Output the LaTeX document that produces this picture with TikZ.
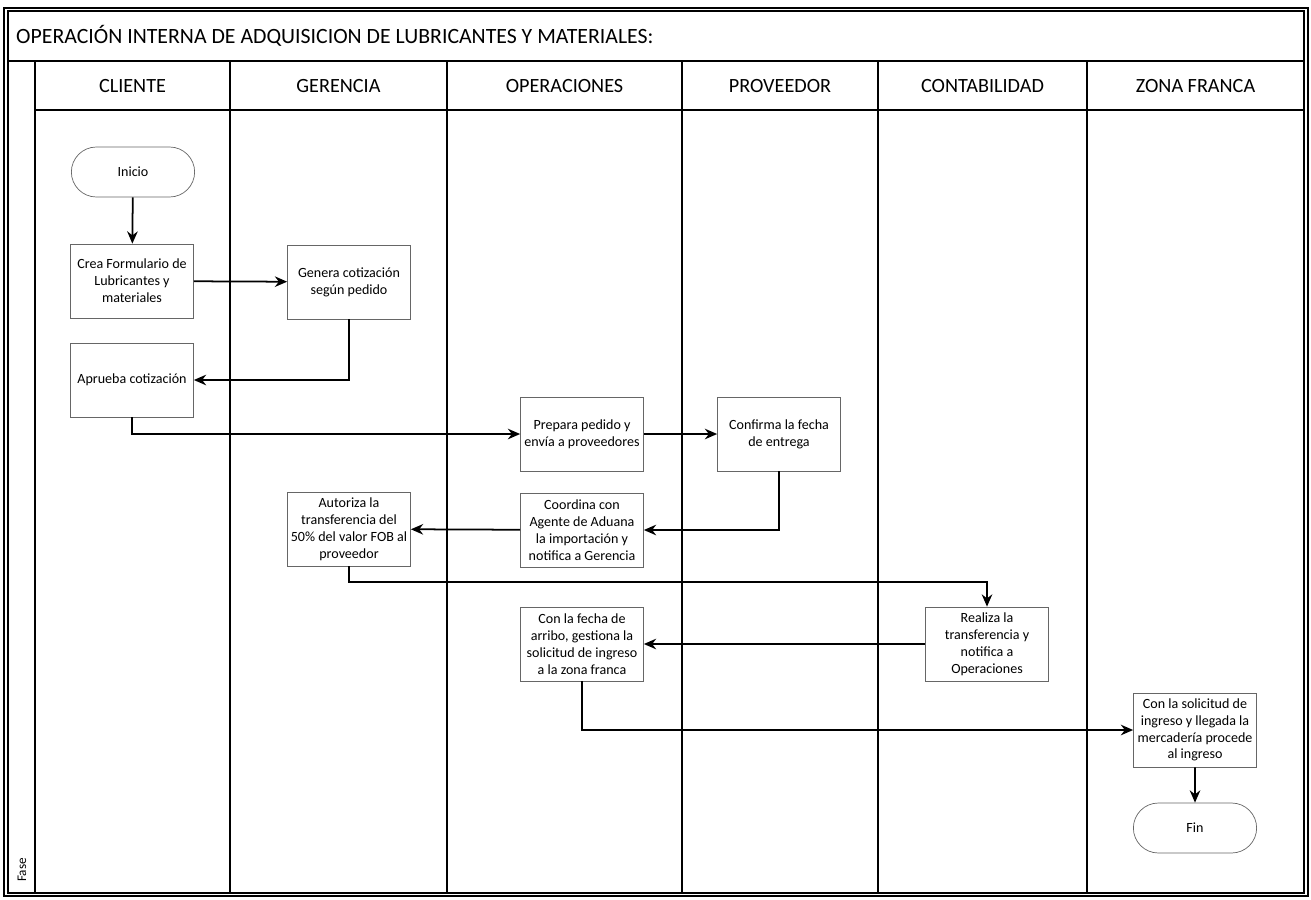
\documentclass[tikz,border=0pt]{standalone}
\usepackage{fontspec}
\setmainfont{Carlito}
\usetikzlibrary{arrows.meta,shapes.misc}

\begin{document}
\begin{tikzpicture}[x=0.02cm,y=-0.02cm]
\tikzstyle{proc}=[draw=black!60,line width=0.4pt,rectangle,minimum width=2.46cm,minimum height=1.48cm,align=center,inner sep=1pt,font=\fontsize{8}{9.6}\selectfont]
\tikzstyle{term}=[draw=black!60,line width=0.4pt,rounded rectangle,minimum width=2.7cm,minimum height=1.0cm,font=\fontsize{8}{9.6}\selectfont]
\tikzstyle{flow}=[line width=1pt,-{Stealth[length=7pt,width=6pt]}]
\tikzstyle{lane}=[line width=0.6pt]
\tikzstyle{head}=[font=\fontsize{11.5}{13}\selectfont]
\useasboundingbox (0,0) rectangle (1311,899);
% frame
\draw [line width=0.7pt] (4,8) rectangle (1308,896);
\draw [line width=0.7pt] (8,11) rectangle (1304,893);
\draw [lane] (8,61) -- (1304,61);
\draw [lane] (35,110) -- (1304,110);
\draw [lane] (35,61) -- (35,893);
\draw [lane] (230,61) -- (230,893);
\draw [lane] (447,61) -- (447,893);
\draw [lane] (682,61) -- (682,893);
\draw [lane] (878,61) -- (878,893);
\draw [lane] (1087,61) -- (1087,893);
\node [anchor=west,font=\fontsize{12.4}{14}\selectfont] (title) at (10,36) {OPERACIÓN INTERNA DE ADQUISICION DE LUBRICANTES Y MATERIALES:};
\node [rotate=90,anchor=west,font=\fontsize{7.5}{9}\selectfont] (fase) at (22,888) {Fase};
% lane heads
\node [head] (hcli) at (132.5,86) {CLIENTE};
\node [head] (hger) at (338.5,86) {GERENCIA};
\node [head] (hope) at (564.5,86) {OPERACIONES};
\node [head] (hpro) at (780,86) {PROVEEDOR};
\node [head] (hcon) at (982.5,86) {CONTABILIDAD};
\node [head] (hzon) at (1195.5,86) {ZONA FRANCA};
% steps
\node [term] (inicio) at (133,172) {Inicio};
\node [proc] (crea) at (132,281) {Crea Formulario de\\Lubricantes y\\materiales};
\node [proc] (genera) at (349,282) {Genera cotización\\según pedido};
\node [proc] (aprueba) at (132,380) {Aprueba cotización};
\node [proc] (prepara) at (582,434) {Prepara pedido y\\envía a proveedores};
\node [proc] (confirma) at (779,434) {Confirma la fecha\\de entrega};
\node [proc] (coordina) at (582,530) {Coordina con\\Agente de Aduana\\la importación y\\notifica a Gerencia};
\node [proc] (autoriza) at (349,529) {Autoriza la\\transferencia del\\50\% del valor FOB al\\proveedor};
\node [proc] (realiza) at (987,644) {Realiza la\\transferencia y\\notifica a\\Operaciones};
\node [proc] (confecha) at (582,644) {Con la fecha de\\arribo, gestiona la\\solicitud de ingreso\\a la zona franca};
\node [proc] (solicitud) at (1195,730) {Con la solicitud de\\ingreso y llegada la\\mercadería procede\\al ingreso};
\node [term] (fin) at (1195,828) {Fin};
% connectors
\draw [flow] (inicio) -- (crea);
\draw [flow] (crea) -- (genera);
\draw [flow] (genera.south) |- (aprueba.east);
\draw [flow] (aprueba.south) |- (prepara.west);
\draw [flow] (prepara) -- (confirma);
\draw [flow] (confirma.south) |- (coordina.east);
\draw [flow] (coordina) -- (autoriza);
\draw [flow] (autoriza.south) -- ++(0,16) -| (realiza.north);
\draw [flow] (realiza.west) -- (confecha.east);
\draw [flow] (confecha.south) |- (solicitud.west);
\draw [flow] (solicitud) -- (fin);
\end{tikzpicture}
\end{document}
